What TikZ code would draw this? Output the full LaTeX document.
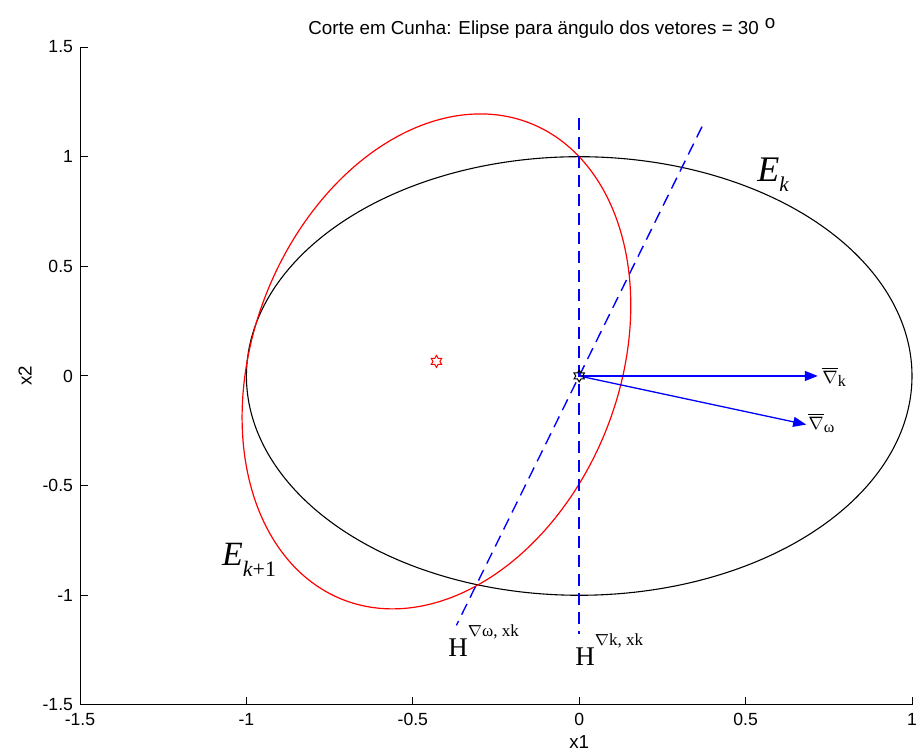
\documentclass[tikz,border=0pt]{standalone}
\usepackage{fontspec}
\setmainfont{Liberation Sans}
\newfontfamily\tnr{Liberation Serif}
\usetikzlibrary{arrows.meta}
\definecolor{hypblue}{RGB}{0,0,255}
\tikzset{
  axisline/.style={line width=0.5pt,black},
  tickmark/.style={line width=0.5pt,black},
  ticklbl/.style={font=\fontsize{8.8}{10}\selectfont,inner sep=0pt},
  hyper/.style={draw=hypblue,line width=0.7pt,dash pattern=on 6pt off 3.5pt},
  grad/.style={draw=blue,fill=blue,line width=0.65pt,-{Triangle[length=6.5pt,width=5pt]}},
  curveblack/.style={draw=black,line width=0.55pt},
  curvered/.style={draw=red,line width=0.6pt},
  lbl/.style={inner sep=0pt,anchor=base west},
  hexmark/.pic={\draw[line width=0.5pt] (90:3pt) -- (60:1.73pt) -- (30:3pt) -- (0:1.73pt) -- (-30:3pt) -- (-60:1.73pt) -- (-90:3pt) -- (-120:1.73pt) -- (-150:3pt) -- (180:1.73pt) -- (150:3pt) -- (120:1.73pt) -- cycle;}
}
\begin{document}
\begin{tikzpicture}[x=166.4pt,y=109.65pt]
\useasboundingbox (-1.7404,-1.7145) rectangle (1.0180,1.7145);
% axes
\draw[axisline] (-1.5,1.5) -- (-1.5,-1.5) -- (1,-1.5);
\foreach \v/\t [count=\i] in {-1.5/-1.5,-1/-1,-0.5/-0.5,0/0,0.5/0.5,1/1,1.5/1.5}{
  \draw[tickmark] (-1.5,\v) -- ++(4pt,0);
  \node[ticklbl,anchor=east] (yl\i) at (-1.52,\v) {\t};
}
\foreach \v/\t [count=\i] in {-1.5/-1.5,-1/-1,-0.5/-0.5,0/0,0.5/0.5,1/1}{
  \draw[tickmark] (\v,-1.5) -- ++(0,4pt);
  \node[ticklbl,anchor=north] (xl\i) at (\v,-1.535) {\t};
}
\node[font=\fontsize{9.4}{11}\selectfont,inner sep=0pt] (xlab) at (0,-1.669) {x1};
\node[font=\fontsize{9.4}{11}\selectfont,inner sep=0pt,rotate=90] (ylab) at (-1.665,0) {x2};
\node[lbl,font=\fontsize{9.4}{11}\selectfont] (title) at (-0.815,1.555) {Corte em Cunha: Elipse para ängulo dos vetores = 30\hspace{3pt}\raisebox{3pt}{o}};
% points
\coordinate (o) at (0,0);
\coordinate (c1) at (-0.429,0.0665);
\coordinate (gk) at (0.717,0);
\coordinate (gw) at (0.682,-0.2216);
\coordinate (hka) at (0,1.175);
\coordinate (hkb) at (0,-1.175);
\coordinate (hwa) at (0.369,1.137);
\coordinate (hwb) at (-0.369,-1.137);
% ellipses
\draw[curveblack] plot[domain=0:360,samples=240,smooth] ({cos(\x)},{sin(\x)}) -- cycle;
\draw[curvered] plot[domain=0:360,samples=240,smooth] ({-0.429+0.584*cos(\x)},{0.0665+0.2551*cos(\x)+1.0993*sin(\x)}) -- cycle;
% hyperplanes
\draw[hyper] (hwa) -- (hwb);
\draw[hyper,line width=0.85pt] (hka) -- (hkb);
% gradients
\draw[grad] (o) -- (gk);
\draw[grad] (o) -- (gw);
% markers
\pic[draw=black] at (o) {hexmark};
\pic[draw=red] at (c1) {hexmark};
% labels
\node[lbl,font=\tnr] (Ek) at (0.534,0.885) {\fontsize{18}{18}\selectfont\itshape E\raisebox{-5pt}{\fontsize{10.5}{10.5}\selectfont k}};
\node[lbl,font=\tnr] (Ek1) at (-1.074,-0.862) {\fontsize{17}{17}\selectfont\itshape E\raisebox{-5.5pt}{\fontsize{11}{11}\selectfont k\upshape+1}};
\node[lbl,font=\tnr] (nk) at (0.7296,-0.0365) {\fontsize{9.5}{9.5}\selectfont$\overline{\nabla}$\raisebox{-1.5pt}{\fontsize{8}{8}\selectfont k}};
\node[lbl,font=\tnr] (nw) at (0.6875,-0.246) {\fontsize{9.5}{9.5}\selectfont$\overline{\nabla}$\raisebox{-1.5pt}{\fontsize{8}{8}\selectfont ω}};
\node[lbl,font=\tnr] (Hw) at (-0.394,-1.281) {\fontsize{13.5}{13.5}\selectfont H\raisebox{10pt}{\fontsize{8.5}{8.5}\selectfont$\nabla$ω, xk}};
\node[lbl,font=\tnr] (Hk) at (-0.0126,-1.318) {\fontsize{13.5}{13.5}\selectfont H\raisebox{10pt}{\fontsize{8.5}{8.5}\selectfont$\nabla$k, xk}};
\end{tikzpicture}
\end{document}
